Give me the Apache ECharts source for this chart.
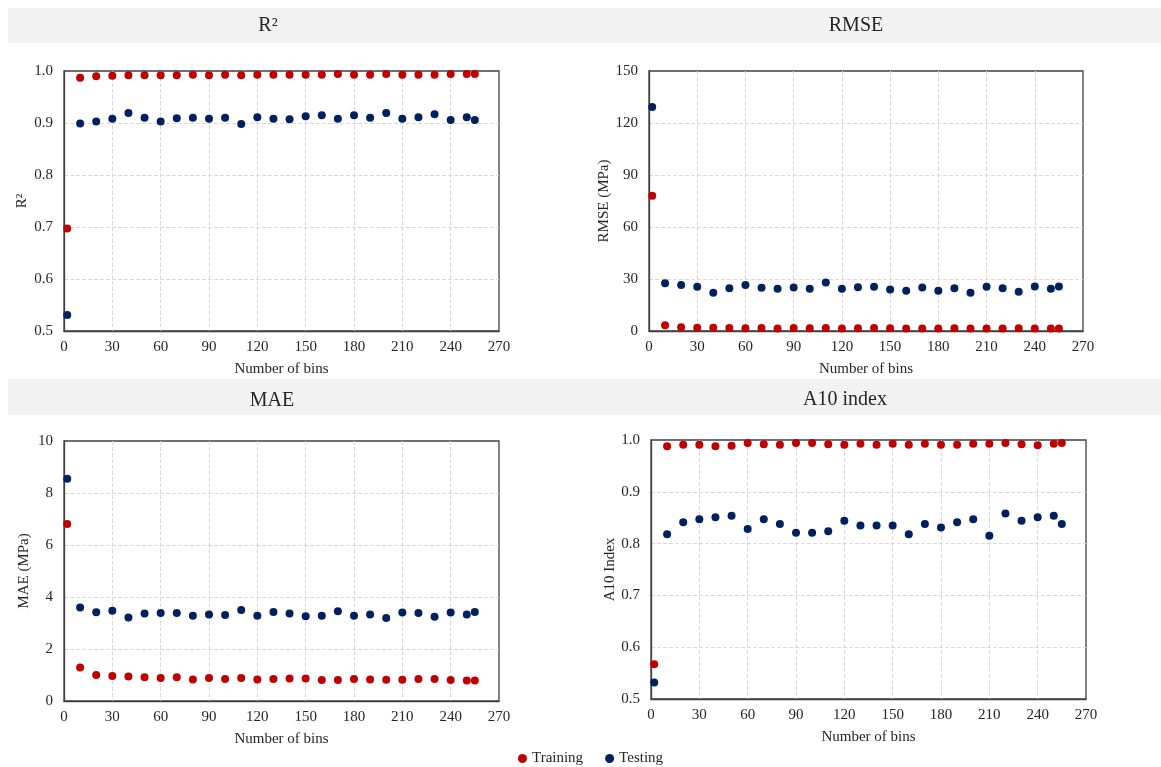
<!DOCTYPE html>
<html>
<head>
<meta charset="utf-8">
<title>Metrics vs number of bins</title>
<script src="https://cdn.jsdelivr.net/npm/echarts@6/dist/echarts.min.js"></script>
<style>
  html, body { margin: 0; padding: 0; background: #fff; }
  #chart { width: 1161px; height: 767px; }
</style>
</head>
<body>
<div id="chart"></div>
<script>
// number of bins (x values shared by all panels)
const bins = [2, 10, 20, 30, 40, 50, 60, 70, 80, 90, 100, 110, 120, 130, 140, 150, 160, 170, 180, 190, 200, 210, 220, 230, 240, 250, 255]

// R2
const r2Train = [0.697, 0.987, 0.990, 0.991, 0.992, 0.992, 0.992, 0.992, 0.993, 0.992, 0.993, 0.992, 0.993, 0.993, 0.993, 0.993, 0.993, 0.994, 0.993, 0.993, 0.994, 0.993, 0.993, 0.993, 0.994, 0.994, 0.994]
const r2Test = [0.531, 0.899, 0.903, 0.908, 0.919, 0.910, 0.903, 0.909, 0.910, 0.908, 0.910, 0.898, 0.911, 0.908, 0.907, 0.913, 0.915, 0.908, 0.915, 0.910, 0.919, 0.908, 0.911, 0.917, 0.906, 0.911, 0.906]

// RMSE (MPa)
const rmseTrain = [78.1, 3.3, 2.1, 1.9, 1.9, 1.7, 1.6, 1.7, 1.5, 1.7, 1.6, 1.7, 1.5, 1.6, 1.7, 1.6, 1.5, 1.5, 1.5, 1.6, 1.5, 1.5, 1.5, 1.6, 1.4, 1.4, 1.4]
const rmseTest = [129.3, 27.6, 26.5, 25.5, 22.1, 24.7, 26.5, 24.9, 24.4, 25.1, 24.4, 28.0, 24.4, 25.3, 25.5, 24.0, 23.2, 25.1, 23.2, 24.6, 22.1, 25.5, 24.6, 22.6, 25.7, 24.4, 25.7]

// MAE (MPa)
const maeTrain = [6.81, 1.29, 1.00, 0.96, 0.94, 0.91, 0.88, 0.91, 0.83, 0.88, 0.85, 0.88, 0.83, 0.85, 0.87, 0.87, 0.81, 0.81, 0.85, 0.83, 0.82, 0.82, 0.85, 0.85, 0.81, 0.79, 0.79]
const maeTest = [8.55, 3.60, 3.41, 3.47, 3.21, 3.37, 3.38, 3.38, 3.28, 3.33, 3.31, 3.50, 3.28, 3.42, 3.37, 3.26, 3.28, 3.45, 3.28, 3.33, 3.19, 3.40, 3.38, 3.24, 3.40, 3.33, 3.42]

// A10 index
const a10Train = [0.567, 0.988, 0.991, 0.991, 0.988, 0.989, 0.994, 0.992, 0.991, 0.994, 0.994, 0.992, 0.991, 0.993, 0.991, 0.993, 0.991, 0.993, 0.991, 0.991, 0.993, 0.993, 0.994, 0.992, 0.990, 0.993, 0.994]
const a10Test = [0.532, 0.818, 0.841, 0.847, 0.851, 0.854, 0.828, 0.847, 0.838, 0.821, 0.821, 0.824, 0.844, 0.835, 0.835, 0.835, 0.818, 0.838, 0.831, 0.841, 0.847, 0.815, 0.858, 0.844, 0.851, 0.854, 0.838]

const serif = '"Liberation Serif", "Times New Roman", serif'
const red = '#c00000'
const blue = '#002060'

function pairs(ys) {
  return bins.map((x, i) => [x, ys[i]])
}

// plot boxes in pixels
const grids = [
  { left: 64, top: 71, width: 435, height: 260 },
  { left: 649, top: 71, width: 434, height: 260 },
  { left: 64, top: 441, width: 435, height: 260 },
  { left: 651, top: 440, width: 435, height: 259 }
]

const yCfg = [
  { name: 'R²', min: 0.5, max: 1.0, interval: 0.1, fmt: v => v.toFixed(1), gap: 34 },
  { name: 'RMSE (MPa)', min: 0, max: 150, interval: 30, fmt: v => v, gap: 31 },
  { name: 'MAE (MPa)', min: 0, max: 10, interval: 2, fmt: v => v, gap: 32 },
  { name: 'A10 Index', min: 0.5, max: 1.0, interval: 0.1, fmt: v => v.toFixed(1), gap: 32 }
]

// dashed grid, but keep the plot frame solid at min / max
const gridLine = { show: true, showMinLine: false, showMaxLine: false, lineStyle: { color: '#d9d9d9', type: 'dashed', width: 1 } }
const axisLine = { show: true, lineStyle: { color: '#404040', width: 1.3 } }

const chart = echarts.init(document.getElementById('chart'))

chart.setOption({
  backgroundColor: '#fff',
  animation: false,
  textStyle: { fontFamily: serif },
  graphic: [
    { type: 'rect', silent: true, z: -10, shape: { x: 8, y: 8, width: 1153, height: 35 }, style: { fill: '#f2f2f2' } },
    { type: 'rect', silent: true, z: -10, shape: { x: 8, y: 379, width: 1153, height: 36 }, style: { fill: '#f2f2f2' } }
  ],
  title: [
    { text: 'R²', left: 268, top: 26, textAlign: 'center', textVerticalAlign: 'middle' },
    { text: 'RMSE', left: 856, top: 26, textAlign: 'center', textVerticalAlign: 'middle' },
    { text: 'MAE', left: 272, top: 401, textAlign: 'center', textVerticalAlign: 'middle' },
    { text: 'A10 index', left: 845, top: 400, textAlign: 'center', textVerticalAlign: 'middle' }
  ].map(t => Object.assign(t, {
    padding: 0,
    textStyle: { fontFamily: serif, fontSize: 20, fontWeight: 'normal', color: '#262626' }
  })),
  legend: {
    top: 746,
    left: 513,
    icon: 'circle',
    itemWidth: 9,
    itemHeight: 9,
    itemGap: 22,
    textStyle: { fontFamily: serif, fontSize: 15, color: '#262626' },
    data: ['Training', 'Testing']
  },
  grid: grids.map(g => Object.assign({}, g, {
    show: true,
    borderColor: '#404040',
    borderWidth: 1.3,
    containLabel: false
  })),
  xAxis: grids.map((g, i) => ({
    type: 'value',
    gridIndex: i,
    min: 0,
    max: 270,
    interval: 30,
    name: 'Number of bins',
    nameLocation: 'middle',
    nameGap: 31,
    nameTextStyle: { fontFamily: serif, fontSize: 15, color: '#262626' },
    axisLine: axisLine,
    axisTick: { show: false },
    axisLabel: { fontFamily: serif, fontSize: 15, color: '#262626', margin: 9 },
    splitLine: gridLine
  })),
  yAxis: yCfg.map((c, i) => ({
    type: 'value',
    gridIndex: i,
    min: c.min,
    max: c.max,
    interval: c.interval,
    name: c.name,
    nameLocation: 'middle',
    nameGap: c.gap,
    nameRotate: 90,
    nameTextStyle: { fontFamily: serif, fontSize: 15, color: '#262626' },
    axisLine: axisLine,
    axisTick: { show: false },
    axisLabel: { fontFamily: serif, fontSize: 15, color: '#262626', margin: 11, formatter: c.fmt },
    splitLine: gridLine
  })),
  series: [
    [r2Train, r2Test],
    [rmseTrain, rmseTest],
    [maeTrain, maeTest],
    [a10Train, a10Test]
  ].flatMap((pair, i) => [
    {
      name: 'Training',
      type: 'scatter',
      xAxisIndex: i,
      yAxisIndex: i,
      symbolSize: 8,
      itemStyle: { color: red, opacity: 1 },
      data: pairs(pair[0])
    },
    {
      name: 'Testing',
      type: 'scatter',
      xAxisIndex: i,
      yAxisIndex: i,
      symbolSize: 8,
      itemStyle: { color: blue, opacity: 1 },
      data: pairs(pair[1])
    }
  ])
})
</script>
</body>
</html>
